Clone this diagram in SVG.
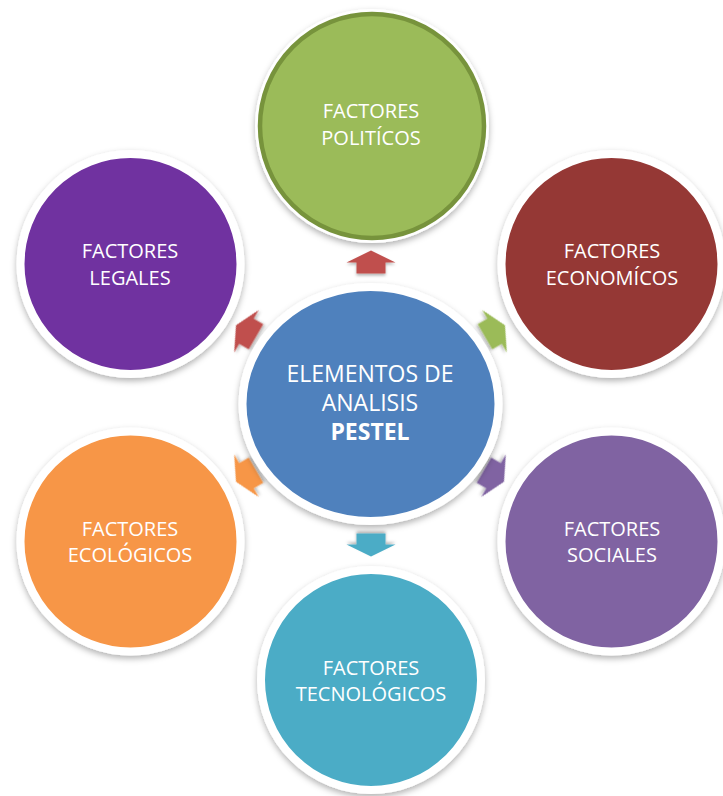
<svg xmlns="http://www.w3.org/2000/svg" width="723" height="796" viewBox="0 0 723 796">
<style>
.ring{stroke:#FFFFFF;stroke-width:8;filter:url(#sh)}
.t{font-family:"Open Sans","Liberation Sans",sans-serif;font-size:20px;fill:#FFFFFF;text-anchor:middle}
.tc{font-family:"Open Sans","Liberation Sans",sans-serif;font-size:23px;fill:#FFFFFF;text-anchor:middle}
.arr{filter:url(#ash)}
</style>
<defs>
<filter id="sh" x="-20%" y="-20%" width="140%" height="140%">
<feDropShadow dx="0" dy="3" stdDeviation="3" flood-color="#000000" flood-opacity="0.3"/>
</filter>
<filter id="ash" x="-30%" y="-30%" width="160%" height="160%">
<feDropShadow dx="0" dy="2" stdDeviation="1.5" flood-color="#000000" flood-opacity="0.3"/>
</filter>
<path id="arrow" d="M0,-11.5 L24.5,0.5 L14.5,0.5 L14.5,11.5 L-14.5,11.5 L-14.5,0.5 L-24.5,0.5 Z"/>
</defs>
<rect width="723" height="796" fill="#FFFFFF"/>

<g id="connectors">
<use href="#arrow" class="arr" fill="#C0504D" transform="translate(371,262)"/>
<use href="#arrow" class="arr" fill="#9BBB59" transform="translate(495,331) rotate(60)"/>
<use href="#arrow" class="arr" fill="#8064A2" transform="translate(494,476) rotate(120)"/>
<use href="#arrow" class="arr" fill="#4BACC6" transform="translate(371,545) rotate(180)"/>
<use href="#arrow" class="arr" fill="#F79646" transform="translate(246,476) rotate(240)"/>
<use href="#arrow" class="arr" fill="#C0504D" transform="translate(246,331) rotate(-60)"/>
</g>

<g id="politicos">
<circle cx="372" cy="126" r="117" fill="#FFFFFF" filter="url(#sh)"/>
<circle cx="372" cy="126" r="112" fill="#9BBB59" stroke="#77933C" stroke-width="4.5"/>
<text class="t" x="371" y="118">FACTORES</text>
<text class="t" x="371" y="145">POLITÍCOS</text>
</g>

<g id="economicos">
<circle class="ring" cx="611.5" cy="264" r="110" fill="#953735"/>
<text class="t" x="612" y="258">FACTORES</text>
<text class="t" x="612" y="285">ECONOMÍCOS</text>
</g>

<g id="sociales">
<circle class="ring" cx="611.5" cy="541.5" r="110" fill="#8064A2"/>
<text class="t" x="612" y="536">FACTORES</text>
<text class="t" x="612" y="562">SOCIALES</text>
</g>

<g id="tecnologicos">
<circle class="ring" cx="371" cy="680" r="110" fill="#4BACC6"/>
<text class="t" x="371" y="675">FACTORES</text>
<text class="t" x="371" y="701">TECNOLÓGICOS</text>
</g>

<g id="ecologicos">
<circle class="ring" cx="130.5" cy="541.5" r="110" fill="#F79646"/>
<text class="t" x="130" y="536">FACTORES</text>
<text class="t" x="130" y="562">ECOLÓGICOS</text>
</g>

<g id="legales">
<circle class="ring" cx="130.5" cy="264" r="110" fill="#7030A0"/>
<text class="t" x="130" y="258">FACTORES</text>
<text class="t" x="130" y="285">LEGALES</text>
</g>

<g id="centro">
<ellipse class="ring" cx="370.5" cy="404" rx="128" ry="117" fill="#4F81BD"/>
<text class="tc" x="370" y="382">ELEMENTOS DE</text>
<text class="tc" x="370" y="411">ANALISIS</text>
<text class="tc" x="370" y="440" font-weight="bold">PESTEL</text>
</g>
</svg>
